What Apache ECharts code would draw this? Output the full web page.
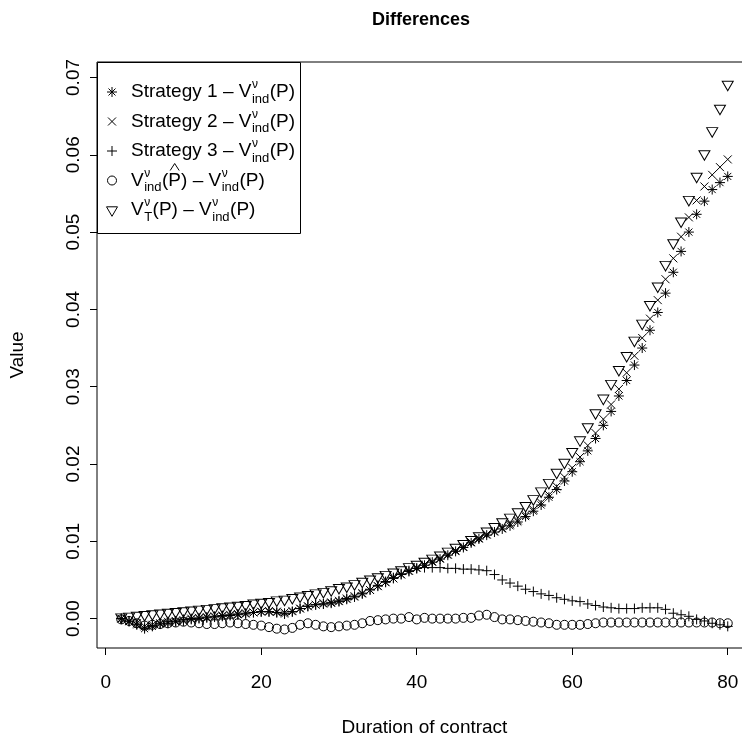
<!DOCTYPE html>
<html><head><meta charset="utf-8">
<script src="https://cdn.jsdelivr.net/npm/echarts@6/dist/echarts.min.js"></script>
<style>html,body{margin:0;padding:0;background:#fff}#c{width:742px;height:740px}</style>
</head><body><div id="c"></div>
<script>
// ---- data ----
const xValues = [2,3,4,5,6,7,8,9,10,11,12,13,14,15,16,17,18,19,20,21,22,23,24,25,26,27,28,29,30,31,32,33,34,35,36,37,38,39,40,41,42,43,44,45,46,47,48,49,50,51,52,53,54,55,56,57,58,59,60,61,62,63,64,65,66,67,68,69,70,71,72,73,74,75,76,77,78,79,80];
const strategy1 = [0.0000,-0.0004,-0.0008,-0.0013,-0.0010,-0.0007,-0.0006,-0.0004,-0.0003,-0.0001,0.0000,0.0001,0.0002,0.0003,0.0004,0.0005,0.0006,0.0008,0.0009,0.0009,0.0008,0.0006,0.0009,0.0013,0.0016,0.0018,0.0019,0.0020,0.0022,0.0025,0.0028,0.0032,0.0037,0.0042,0.0047,0.0052,0.0057,0.0061,0.0065,0.0069,0.0073,0.0077,0.0082,0.0087,0.0092,0.0098,0.0103,0.0108,0.0112,0.0116,0.0120,0.0125,0.0132,0.0139,0.0147,0.0157,0.0167,0.0178,0.0190,0.0203,0.0217,0.0233,0.0250,0.0268,0.0288,0.0308,0.0328,0.0350,0.0373,0.0396,0.0421,0.0448,0.0475,0.0500,0.0523,0.0540,0.0555,0.0564,0.0572];
const strategy2 = [0.0000,-0.0003,-0.0006,-0.0010,-0.0008,-0.0006,-0.0004,-0.0003,-0.0002,0.0000,0.0001,0.0002,0.0003,0.0004,0.0005,0.0006,0.0007,0.0008,0.0009,0.0010,0.0009,0.0008,0.0010,0.0013,0.0016,0.0018,0.0020,0.0021,0.0023,0.0026,0.0029,0.0033,0.0037,0.0042,0.0047,0.0052,0.0057,0.0062,0.0066,0.0070,0.0074,0.0078,0.0083,0.0088,0.0093,0.0099,0.0104,0.0109,0.0113,0.0117,0.0122,0.0127,0.0134,0.0141,0.0150,0.0160,0.0171,0.0183,0.0195,0.0209,0.0224,0.0240,0.0258,0.0277,0.0297,0.0318,0.0340,0.0363,0.0388,0.0412,0.0439,0.0466,0.0494,0.0519,0.0541,0.0559,0.0574,0.0584,0.0594];
const strategy3 = [0.0000,-0.0003,-0.0007,-0.0011,-0.0009,-0.0006,-0.0004,-0.0003,-0.0001,0.0000,0.0001,0.0002,0.0003,0.0004,0.0005,0.0006,0.0007,0.0008,0.0009,0.0009,0.0008,0.0007,0.0009,0.0013,0.0016,0.0018,0.0019,0.0021,0.0023,0.0026,0.0029,0.0033,0.0038,0.0043,0.0048,0.0053,0.0058,0.0062,0.0065,0.0066,0.0066,0.0066,0.0065,0.0065,0.0064,0.0064,0.0063,0.0062,0.0057,0.0050,0.0046,0.0042,0.0038,0.0035,0.0032,0.0030,0.0027,0.0025,0.0023,0.0022,0.0019,0.0017,0.0015,0.0014,0.0013,0.0013,0.0013,0.0014,0.0014,0.0014,0.0012,0.0007,0.0005,0.0003,-0.0001,-0.0003,-0.0006,-0.0008,-0.0010];
const estimatedP = [-0.0001,-0.0003,-0.0006,-0.0009,-0.0008,-0.0007,-0.0006,-0.0005,-0.0004,-0.0005,-0.0006,-0.0007,-0.0007,-0.0006,-0.0005,-0.0006,-0.0007,-0.0008,-0.0009,-0.0011,-0.0013,-0.0014,-0.0012,-0.0008,-0.0006,-0.0008,-0.0010,-0.0011,-0.0010,-0.0009,-0.0008,-0.0006,-0.0003,-0.0002,-0.0001,0.0000,0.0000,0.0002,-0.0001,0.0001,0.0000,0.0000,0.0000,0.0000,0.0001,0.0001,0.0004,0.0005,0.0002,-0.0001,-0.0001,-0.0002,-0.0003,-0.0004,-0.0005,-0.0006,-0.0008,-0.0008,-0.0008,-0.0008,-0.0007,-0.0006,-0.0005,-0.0005,-0.0005,-0.0005,-0.0005,-0.0005,-0.0005,-0.0005,-0.0005,-0.0005,-0.0005,-0.0005,-0.0005,-0.0005,-0.0005,-0.0006,-0.0006];
const valueT = [0.0000,0.0001,0.0002,0.0003,0.0004,0.0005,0.0006,0.0007,0.0008,0.0009,0.0010,0.0011,0.0012,0.0013,0.0014,0.0015,0.0016,0.0018,0.0019,0.0020,0.0022,0.0023,0.0025,0.0027,0.0029,0.0031,0.0033,0.0035,0.0038,0.0040,0.0043,0.0046,0.0049,0.0052,0.0055,0.0058,0.0061,0.0065,0.0068,0.0072,0.0076,0.0080,0.0085,0.0090,0.0095,0.0100,0.0105,0.0111,0.0117,0.0123,0.0129,0.0136,0.0144,0.0153,0.0163,0.0174,0.0187,0.0200,0.0214,0.0229,0.0246,0.0264,0.0283,0.0302,0.0320,0.0338,0.0358,0.0380,0.0404,0.0428,0.0456,0.0484,0.0512,0.0540,0.0570,0.0599,0.0629,0.0658,0.0689];
const xTicks = [0,20,40,60,80];
const yTicks = [0,0.01,0.02,0.03,0.04,0.05,0.06,0.07];
const titleText = 'Differences';
const xName = 'Duration of contract';
const yName = 'Value';

// ---- styling ----
const FONT = '"Liberation Sans", Arial, Helvetica, sans-serif';
const FS = 19;
const SYM = {
  star: 'path://M5,0L5,10M0,5L10,5M1.46,1.46L8.54,8.54M8.54,1.46L1.46,8.54',
  cross: 'path://M0,0L10,10M10,0L0,10',
  plus: 'path://M5,0L5,10M0,5L10,5',
  tri: 'path://M0,0L10,0L5,8.66Z'
};

function mkSeries(name, values, symbol, size) {
  return {
    type: 'scatter', name: name,
    data: xValues.map((x, i) => [x, values[i]]),
    symbol: symbol, symbolSize: size,
    itemStyle: { color: 'none', borderColor: '#000', borderWidth: 1, opacity: 1 },
    emphasis: { disabled: true }, silent: true, animation: false
  };
}

// ---- legend drawing (math text) ----
const mctx = document.createElement('canvas').getContext('2d');
function tw(t, size) { mctx.font = size + 'px ' + FONT; return mctx.measureText(t).width; }
function txt(t, x, y, size) {
  return { type: 'text', silent: true, style: { text: t, x: x, y: y, font: size + 'px ' + FONT, fill: '#000', align: 'left', verticalAlign: 'middle' } };
}
const legendRows = [
  { sym: 'star', parts: [['n', 'Strategy 1 \u2013 V'], ['ss', '\u03bd', 'ind'], ['n', '(P)']] },
  { sym: 'cross', parts: [['n', 'Strategy 2 \u2013 V'], ['ss', '\u03bd', 'ind'], ['n', '(P)']] },
  { sym: 'plus', parts: [['n', 'Strategy 3 \u2013 V'], ['ss', '\u03bd', 'ind'], ['n', '(P)']] },
  { sym: 'circle', parts: [['n', 'V'], ['ss', '\u03bd', 'ind'], ['n', '('], ['hat', 'P'], ['n', ') \u2013 V'], ['ss', '\u03bd', 'ind'], ['n', '(P)']] },
  { sym: 'tri', parts: [['n', 'V'], ['ss', '\u03bd', 'T'], ['n', '(P) \u2013 V'], ['ss', '\u03bd', 'ind'], ['n', '(P)']] }
];
const LEG = { x: 97, y: 62, w: 203, h: 171, symX: 112, textX: 131, rows: [92, 121.5, 151, 180.5, 210] };
const SUBFS = 13;
function symbolGraphic(kind, cx, cy) {
  const ls = { stroke: '#000', lineWidth: 1 };
  const line = (x1, y1, x2, y2) => ({ type: 'line', silent: true, shape: { x1: x1, y1: y1, x2: x2, y2: y2 }, style: ls });
  if (kind === 'star') return [line(cx, cy - 5, cx, cy + 5), line(cx - 5, cy, cx + 5, cy), line(cx - 3.5, cy - 3.5, cx + 3.5, cy + 3.5), line(cx + 3.5, cy - 3.5, cx - 3.5, cy + 3.5)];
  if (kind === 'cross') return [line(cx - 4, cy - 4, cx + 4, cy + 4), line(cx + 4, cy - 4, cx - 4, cy + 4)];
  if (kind === 'plus') return [line(cx, cy - 5, cx, cy + 5), line(cx - 5, cy, cx + 5, cy)];
  if (kind === 'circle') return [{ type: 'circle', silent: true, shape: { cx: cx, cy: cy, r: 4.5 }, style: { fill: 'none', stroke: '#000', lineWidth: 1 } }];
  return [{ type: 'polygon', silent: true, shape: { points: [[cx - 5.5, cy - 3.2], [cx + 5.5, cy - 3.2], [cx, cy + 6.3]] }, style: { fill: 'none', stroke: '#000', lineWidth: 1 } }];
}
const legendEls = [{ type: 'rect', silent: true, shape: { x: LEG.x + 0.5, y: LEG.y + 0.5, width: LEG.w, height: LEG.h }, style: { fill: '#fff', stroke: '#000', lineWidth: 1 } }];
legendRows.forEach((row, i) => {
  const y = LEG.rows[i];
  symbolGraphic(row.sym, LEG.symX, y).forEach(e => legendEls.push(e));
  let x = LEG.textX;
  row.parts.forEach(p => {
    if (p[0] === 'n') { legendEls.push(txt(p[1], x, y, FS)); x += tw(p[1], FS); }
    else if (p[0] === 'ss') {
      legendEls.push(txt(p[1], x + 0.5, y - 7, SUBFS - 1));
      legendEls.push(txt(p[2], x + 0.5, y + 7, SUBFS));
      x += Math.max(tw(p[1], SUBFS - 1), tw(p[2], SUBFS)) + 1;
    } else if (p[0] === 'hat') {
      const w = tw(p[1], FS);
      legendEls.push(txt(p[1], x, y, FS));
      const c = x + w / 2;
      legendEls.push({ type: 'polyline', silent: true, shape: { points: [[c - 4.5, y - 10], [c, y - 17], [c + 4.5, y - 10]] }, style: { fill: 'none', stroke: '#000', lineWidth: 1 } });
      x += w;
    }
  });
});

const chart = echarts.init(document.getElementById('c'), null, { renderer: 'canvas' });
chart.setOption({
  animation: false,
  backgroundColor: '#fff',
  title: { text: titleText, left: 421, top: 11, textAlign: 'center', padding: 0,
    textStyle: { fontFamily: FONT, fontSize: 18, fontWeight: 'bold', color: '#000' } },
  grid: { left: 97, top: 62, width: 655, height: 586, containLabel: false, outerBoundsMode: 'none',
    show: true, borderColor: '#000', borderWidth: 1, backgroundColor: 'transparent' },
  xAxis: {
    type: 'value', min: -1.12, max: 83.12, position: 'bottom',
    name: xName, nameLocation: 'middle', nameGap: 70,
    nameTextStyle: { fontFamily: FONT, fontSize: FS, color: '#000' },
    axisLine: { show: false, onZero: false }, splitLine: { show: false },
    axisTick: { show: true, customValues: xTicks, length: 7, lineStyle: { color: '#000', width: 1 } },
    axisLabel: { show: true, customValues: xTicks, margin: 25, fontFamily: FONT, fontSize: FS, color: '#000' }
  },
  yAxis: {
    type: 'value', min: -0.0038, max: 0.072, position: 'left',
    name: yName, nameLocation: 'middle', nameRotate: 90, nameGap: 70,
    nameTextStyle: { fontFamily: FONT, fontSize: FS, color: '#000' },
    axisLine: { show: false, onZero: false }, splitLine: { show: false },
    axisTick: { show: true, customValues: yTicks, length: 7, lineStyle: { color: '#000', width: 1 } },
    axisLabel: { show: true, customValues: yTicks, rotate: 90, margin: 14, fontFamily: FONT, fontSize: FS, color: '#000',
      formatter: v => Number(v).toFixed(2) }
  },
  series: [
    mkSeries('Strategy 1', strategy1, SYM.star, [10, 10]),
    mkSeries('Strategy 2', strategy2, SYM.cross, [8, 8]),
    mkSeries('Strategy 3', strategy3, SYM.plus, [10, 10]),
    mkSeries('Estimated P', estimatedP, 'circle', 9),
    mkSeries('V_T', valueT, SYM.tri, [11, 9.5])
  ],
  graphic: { elements: legendEls }
});
</script>
</body></html>
